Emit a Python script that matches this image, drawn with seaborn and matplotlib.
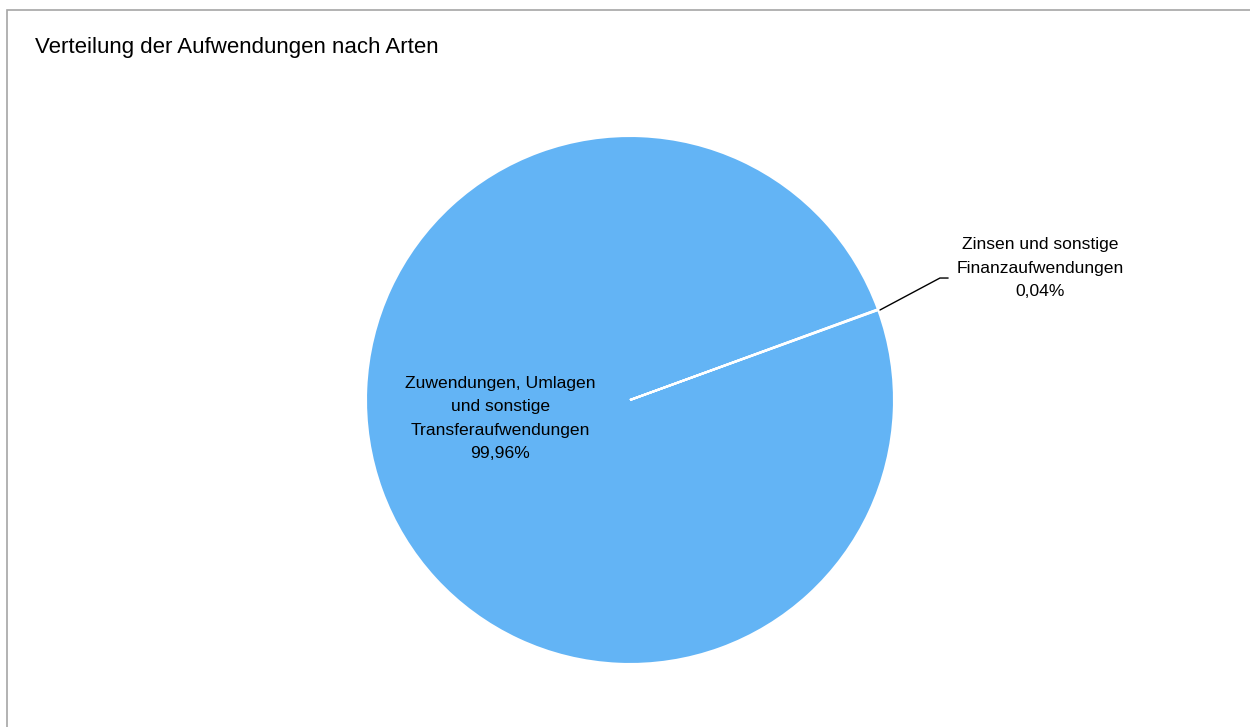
import matplotlib
matplotlib.use("Agg")
import matplotlib.pyplot as plt
from matplotlib.patches import Rectangle
import seaborn as sns

# data
categories = ["Zuwendungen, Umlagen\nund sonstige\nTransferaufwendungen",
              "Zinsen und sonstige\nFinanzaufwendungen"]
shares = [99.96, 0.04]
share_labels = ["99,96%", "0,04%"]
colors = ["#63b4f5", "#63b4f5"]

sns.set_theme(style="white")
plt.rcParams['font.family'] = ['Liberation Sans', 'DejaVu Sans']

fig = plt.figure(figsize=(12.5, 7.27), dpi=100)
W, H = 1250, 727
cx, cy, r = 630, 400, 264

# frame around the chart area (only top and left visible)
fig.patches.append(Rectangle((7 / W, -0.1), 1.2, (727 - 10) / H + 0.1,
                             transform=fig.transFigure, fill=False,
                             edgecolor="#a6a6a6", linewidth=1.2))

fig.text(35 / W, 1 - 47 / H, "Verteilung der Aufwendungen nach Arten",
         fontsize=16, va="center", ha="left", color="black")

ax = fig.add_axes([(cx - r) / W, (H - cy - r) / H, 2 * r / W, 2 * r / H])
small_angle = 19.8
ax.pie(shares, colors=colors, startangle=small_angle + shares[1] * 3.6,
       counterclock=False, wedgeprops={"edgecolor": "white", "linewidth": 1.5})
ax.set_xlim(-1, 1)
ax.set_ylim(-1, 1)
ax.set_aspect("equal")
ax.axis("off")

ax.text(-0.492, -0.07, categories[0] + "\n" + share_labels[0], ha="center",
        va="center", fontsize=12.6, color="black", linespacing=1.67)
ax.text(1.553, 0.5, categories[1] + "\n" + share_labels[1], ha="center",
        va="center", fontsize=12.6, color="black", linespacing=1.67)
ax.plot([0.947, 1.174, 1.205], [0.341, 0.462, 0.462], color="black",
        linewidth=1, clip_on=False)

fig.savefig("out.png", dpi=100)
